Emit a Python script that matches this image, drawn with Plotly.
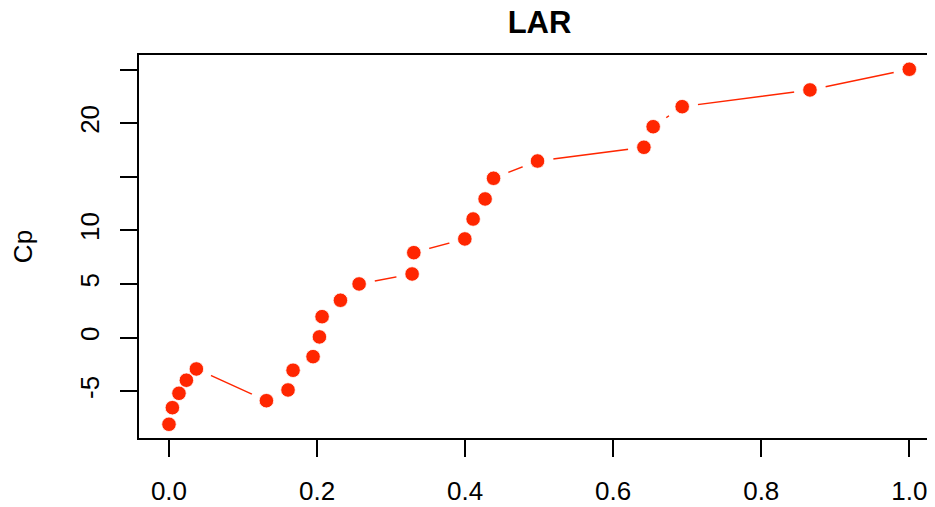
import plotly.graph_objects as go

# Data (LAR path: fraction vs Cp)
x_vals = [0.0, 0.0046, 0.0135, 0.0235, 0.037, 0.1316, 0.1608, 0.1676, 0.1946,
          0.2032, 0.2068, 0.2316, 0.2568, 0.3284, 0.3307, 0.3996, 0.4108,
          0.427, 0.4384, 0.4978, 0.6415, 0.654, 0.6932, 0.8658, 1.0]
cp_vals = [-8.08, -6.53, -5.19, -3.97, -2.92, -5.88, -4.88, -3.04, -1.77,
           0.07, 1.96, 3.49, 5.01, 5.94, 7.93, 9.21, 11.07,
           12.94, 14.87, 16.48, 17.76, 19.68, 21.55, 23.11, 25.04]

x_tickvals = [0.0, 0.2, 0.4, 0.6, 0.8, 1.0]
x_ticktext = ["0.0", "0.2", "0.4", "0.6", "0.8", "1.0"]
y_tickvals = [-5, 0, 5, 10, 15, 20, 25]
y_ticktext = ["-5", "0", "5", "10", "", "20", ""]

RED = "#ff2600"
FONT = "Liberation Sans, Arial, Helvetica, sans-serif"

# the page body has an 8px default margin, so the figure is sized to fit the window
W, H = 927, 499

fig = go.Figure()
# connecting line
fig.add_trace(go.Scatter(x=x_vals, y=cp_vals, mode="lines",
                         line=dict(color=RED, width=1.4),
                         hoverinfo="skip", showlegend=False))
# white halos to create the gaps of an R type="b" plot
fig.add_trace(go.Scatter(x=x_vals, y=cp_vals, mode="markers",
                         marker=dict(color="white", size=32, line=dict(width=0)),
                         hoverinfo="skip", showlegend=False))
# points
fig.add_trace(go.Scatter(x=x_vals, y=cp_vals, mode="markers",
                         marker=dict(color=RED, size=14.5, line=dict(width=0.8, color="white")),
                         name="Cp", showlegend=False))

fig.update_layout(
    width=W, height=H,
    margin=dict(l=131, r=0, t=47, b=69, autoexpand=False),
    paper_bgcolor="white", plot_bgcolor="white",
    font=dict(family=FONT, size=26, color="black"),
    title=dict(text="<b>LAR</b>", x=531.5 / W, xanchor="center",
               y=1 - 14 / H, yanchor="middle", automargin=False,
               font=dict(family=FONT, size=31, color="black")),
    showlegend=False,
)
fig.update_xaxes(
    range=[-0.0405, 1.0347], tickmode="array", tickvals=x_tickvals, ticktext=x_ticktext,
    showgrid=False, zeroline=False, showline=True, linecolor="black", linewidth=1.6,
    mirror=True, ticks="outside", ticklen=17, tickwidth=1.5, tickcolor="black",
    automargin=False,
    ticklabelstandoff=12, tickfont=dict(size=26, family=FONT, color="black"),
)
fig.update_yaxes(
    range=[-9.36, 26.37], tickmode="array", tickvals=y_tickvals, ticktext=y_ticktext,
    showgrid=False, zeroline=False, showline=True, linecolor="black", linewidth=1.6,
    mirror=False, ticks="outside", ticklen=17, tickwidth=1.5, tickcolor="black",
    automargin=False,
    tickangle=-90, ticklabelstandoff=11, tickfont=dict(size=26, family=FONT, color="black"),
    title=dict(text="Cp", standoff=35, font=dict(size=26, family=FONT, color="black")),
)

fig.write_html("out.html")
